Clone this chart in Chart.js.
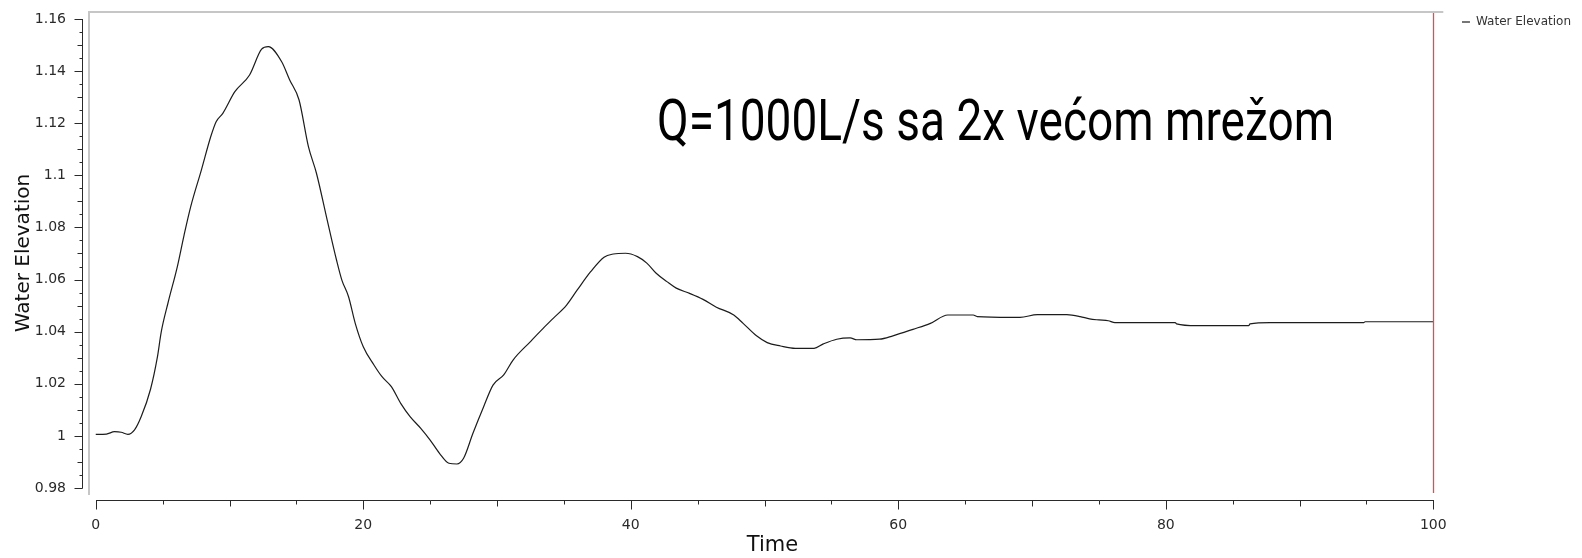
<!DOCTYPE html>
<html>
<head>
<meta charset="utf-8">
<title>Water Elevation</title>
<script src="https://cdn.jsdelivr.net/npm/chart.js@4.4.1/dist/chart.umd.min.js"></script>
<style>
  html, body { margin: 0; padding: 0; background: #fff; }
  #chart { display: block; }
</style>
</head>
<body>
<canvas id="chart" width="1582" height="558"></canvas>
<script>
// values (time in s, elevation)
const timeValues = [
  0, 0.8, 1.4, 1.9, 2.4, 2.9, 3.4, 4.1, 4.6, 4.9, 5.4, 6.1, 6.6, 7.1, 7.9, 8.6, 9.0, 9.5,
  10.4, 11.5, 12.4, 12.9, 13.9, 14.5, 15.2, 15.9, 16.5, 17.3, 18.0, 18.4, 18.9, 19.4,
  20.0, 20.8, 21.4, 22.1, 22.8, 23.5, 24.3, 25.0, 25.7, 26.4, 27.0, 27.5, 28.2, 29.0,
  29.7, 30.5, 31.2, 32.5, 33.3, 34.2, 35.2, 36.0, 37.0, 38.0, 38.7, 39.6, 40.5, 41.2,
  41.9, 42.7, 43.4, 44.4, 45.4, 46.4, 47.7, 48.4, 49.4, 50.2, 51.2, 52.3, 53.7, 54.4,
  55.4, 56.4, 56.9, 58.6, 59.6, 61.1, 62.4, 63.7, 65.6, 65.9, 68.4, 69.1, 70.4, 72.6,
  73.6, 74.3, 75.0, 75.7, 76.2, 80.7, 80.8, 82.3, 86.2, 86.3, 87.8, 94.8, 94.9, 100
]
const elevationValues = [
  1.0006, 1.0007, 1.0016, 1.0014, 1.0006, 1.0023, 1.0074, 1.0180, 1.0300, 1.0400, 1.0510,
  1.0650, 1.0770, 1.0880, 1.1021, 1.1149, 1.1206, 1.1238, 1.1321, 1.1385, 1.1484, 1.1494,
  1.1436, 1.1366, 1.1289, 1.1110, 1.1008, 1.0829, 1.0675, 1.0598, 1.0534, 1.0432,
  1.0342, 1.0272, 1.0227, 1.0189, 1.0125, 1.0074, 1.0029, 0.9984, 0.9933, 0.9895,
  0.9892, 0.9914, 1.0010, 1.0112, 1.0195, 1.0234, 1.0291, 1.0362, 1.0405, 1.0451,
  1.0502, 1.0560, 1.0630, 1.0686, 1.0698, 1.0701, 1.0688, 1.0663, 1.0624, 1.0592,
  1.0567, 1.0547, 1.0524, 1.0494, 1.0464, 1.0432, 1.0384, 1.0358, 1.0345, 1.0336,
  1.0336, 1.0353, 1.0371, 1.0376, 1.0369, 1.0371, 1.0384, 1.0409, 1.0432, 1.0464,
  1.0464, 1.0458, 1.0455, 1.0455, 1.0465, 1.0465, 1.0458, 1.0449, 1.0445, 1.0442,
  1.0435, 1.0435, 1.0430, 1.0423, 1.0423, 1.0430, 1.0435, 1.0435, 1.0438, 1.0438
]
const xTickValues = [0, 20, 40, 60, 80, 100]
const yTickValues = [0.98, 1, 1.02, 1.04, 1.06, 1.08, 1.1, 1.12, 1.14, 1.16]
const xMinorStep = 5
const yMinorStep = 0.005
const seriesLabel = 'Water Elevation'
const xTitle = 'Time'
const yTitle = 'Water Elevation'
const noteText = 'Q=1000L/s sa 2x većom mrežom'

const tickFont = { family: '"DejaVu Sans", sans-serif', size: 14 }
const axisColor = '#2a2a2a'

// draws the inset frame, the time marker, the axis lines with minor ticks and the note
const framePlugin = {
  id: 'frame',
  afterDraw(chart) {
    const { ctx, chartArea, scales: { x, y } } = chart
    const xFirst = x.getPixelForValue(xTickValues[0])
    const xLast = x.getPixelForValue(xTickValues[xTickValues.length - 1])
    const yFirst = y.getPixelForValue(yTickValues[0])
    const yLast = y.getPixelForValue(yTickValues[yTickValues.length - 1])
    ctx.save()

    // gray panel edge (left and top only)
    ctx.strokeStyle = '#c6c6c6'
    ctx.lineWidth = 2
    ctx.beginPath()
    ctx.moveTo(chartArea.left + 1, chartArea.bottom)
    ctx.lineTo(chartArea.left + 1, chartArea.top + 1)
    ctx.lineTo(xLast + 10, chartArea.top + 1)
    ctx.stroke()

    // red marker at the current time
    const xNow = Math.round(x.getPixelForValue(timeValues[timeValues.length - 1])) + 0.5
    ctx.strokeStyle = '#f04848'
    ctx.lineWidth = 1.3
    ctx.beginPath()
    ctx.moveTo(xNow, chartArea.top + 2)
    ctx.lineTo(xNow, chartArea.bottom - 2)
    ctx.stroke()

    // axis lines with major / minor ticks
    ctx.strokeStyle = axisColor
    ctx.lineWidth = 1
    const axX = chartArea.left - 5.5
    const axY = chartArea.bottom + 5.5
    ctx.beginPath()
    ctx.moveTo(axX, Math.round(yLast))
    ctx.lineTo(axX, Math.round(yFirst) + 0.5)
    ctx.moveTo(Math.round(xFirst), axY)
    ctx.lineTo(Math.round(xLast) + 1, axY)

    const ySteps = Math.round((yTickValues[yTickValues.length - 1] - yTickValues[0]) / yMinorStep)
    for (let k = 0; k <= ySteps; k++) {
      const py = Math.round(y.getPixelForValue(yTickValues[0] + k * yMinorStep)) + 0.5
      const len = k % 4 === 0 ? 8 : (k % 2 === 0 ? 5 : 3)
      ctx.moveTo(axX, py)
      ctx.lineTo(axX - len, py)
    }
    const xSteps = Math.round((xTickValues[xTickValues.length - 1] - xTickValues[0]) / xMinorStep)
    for (let k = 0; k <= xSteps; k++) {
      const px = Math.round(x.getPixelForValue(xTickValues[0] + k * xMinorStep)) + 0.5
      const len = k % 4 === 0 ? 9 : (k % 2 === 0 ? 6 : 4)
      ctx.moveTo(px, axY)
      ctx.lineTo(px, axY + len)
    }
    ctx.stroke()

    // annotation
    ctx.fillStyle = '#000'
    ctx.font = '400 58px Roboto, "DejaVu Sans Condensed", sans-serif'
    ctx.textBaseline = 'alphabetic'
    ctx.textAlign = 'left'
    ctx.fillText(noteText, 657, 140, 677)
    ctx.restore()
  }
}

new Chart(document.getElementById('chart'), {
  type: 'line',
  data: {
    datasets: [{
      label: seriesLabel,
      data: timeValues.map((t, i) => ({ x: t, y: elevationValues[i] })),
      borderColor: '#1c1c1c',
      backgroundColor: '#1c1c1c',
      borderWidth: 1.2,
      pointRadius: 0,
      cubicInterpolationMode: 'monotone',
      fill: false
    }]
  },
  options: {
    responsive: false,
    animation: false,
    devicePixelRatio: 1,
    layout: { padding: { top: 11, right: 1, bottom: 0, left: 0 } },
    plugins: {
      tooltip: { enabled: false },
      legend: {
        position: 'right',
        align: 'start',
        labels: {
          usePointStyle: true,
          pointStyle: 'line',
          pointStyleWidth: 8,
          padding: 5,
          color: '#333',
          font: { family: '"DejaVu Sans", sans-serif', size: 12 }
        }
      }
    },
    scales: {
      x: {
        type: 'linear',
        min: -0.58,
        max: 101.77,
        grid: { display: false },
        border: { display: false },
        afterBuildTicks: s => { s.ticks = xTickValues.map(v => ({ value: v })) },
        afterFit: s => { s.height = 63; s.paddingLeft = 0; s.paddingRight = 0 },
        ticks: {
          padding: 14,
          color: axisColor,
          font: tickFont,
          autoSkip: false,
          maxRotation: 0,
          callback: v => String(v)
        },
        title: {
          display: true,
          text: xTitle,
          color: '#111',
          font: { family: '"DejaVu Sans", sans-serif', size: 21 },
          padding: { top: 0, bottom: 0 }
        }
      },
      y: {
        type: 'linear',
        min: 0.97731,
        max: 1.16307,
        grid: { display: false },
        border: { display: false },
        afterBuildTicks: s => { s.ticks = yTickValues.map(v => ({ value: v })) },
        afterFit: s => { s.width = 88; s.paddingTop = 0; s.paddingBottom = 0 },
        ticks: {
          padding: 14,
          color: axisColor,
          font: tickFont,
          callback: v => String(+v.toFixed(3))
        },
        title: {
          display: true,
          text: yTitle,
          color: '#111',
          font: { family: '"DejaVu Sans", sans-serif', size: 20 },
          padding: { top: 12, bottom: 0 }
        }
      }
    }
  },
  plugins: [framePlugin]
})
</script>
</body>
</html>
